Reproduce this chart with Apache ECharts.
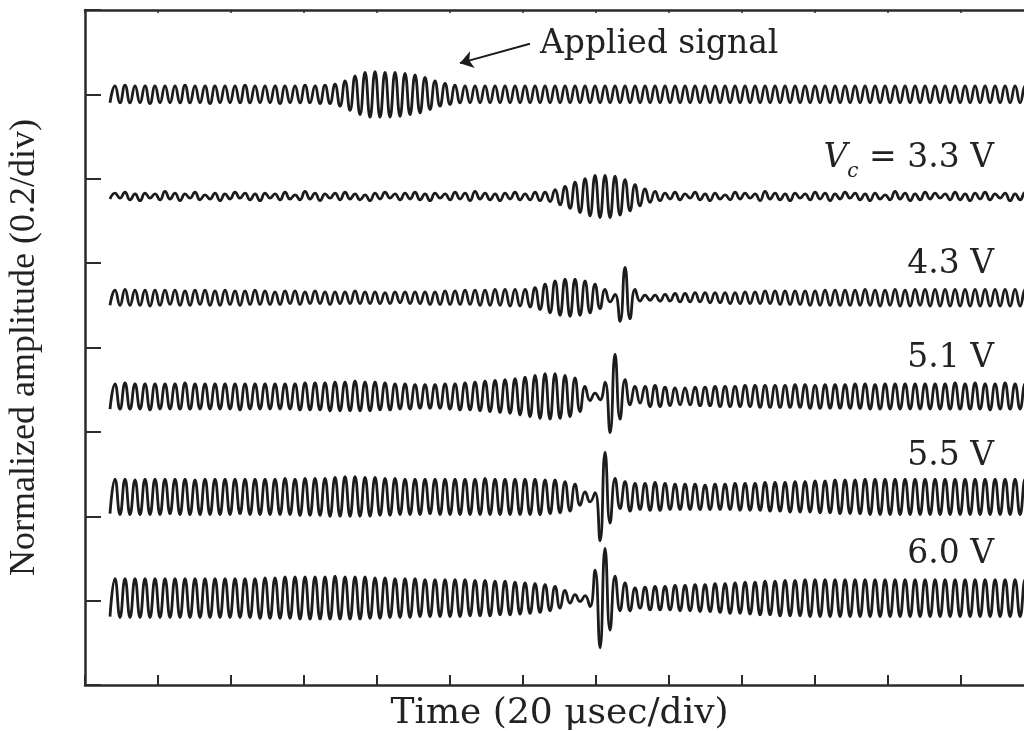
<!DOCTYPE html>
<html>
<head>
<meta charset="utf-8">
<script src="https://cdn.jsdelivr.net/npm/echarts@6/dist/echarts.min.js"></script>
<style>
html,body{margin:0;padding:0;background:#fff;}
#chart{width:1024px;height:731px;}
</style>
</head>
<body>
<div id="chart"></div>
<script>
// ---- data (amplitude in divisions; 1 div = 0.2 normalized units) ----
// successive half-cycle extremes, sampled every 1.37 µs starting at 6.85 µs
const sampleStart = 6.85;   // µs
const sampleStep = 1.37;    // µs (half period)

const traceLabels = ['Applied signal', '3.3 V', '4.3 V', '5.1 V', '5.5 V', '6.0 V'];
const traceOffsets = [7.0, 5.79, 4.59, 3.42, 2.23, 1.03];

const applied = [
-0.10,0.10,-0.10,0.11,-0.10,0.10,-0.10,0.10,-0.11,0.10,
-0.10,0.10,-0.10,0.10,-0.10,0.11,-0.10,0.10,-0.10,0.10,
-0.11,0.10,-0.10,0.10,-0.10,0.10,-0.10,0.11,-0.10,0.10,
-0.10,0.10,-0.10,0.10,-0.11,0.10,-0.10,0.10,-0.10,0.11,
-0.10,0.10,-0.11,0.11,-0.11,
0.12,-0.14,0.16,-0.19,0.22,-0.24,
0.26,-0.27,0.27,-0.27,0.26,-0.27,0.26,-0.26,0.25,-0.24,0.23,
-0.22,0.20,-0.18,0.16,-0.14,0.13,-0.12,0.11,
-0.10,0.10,-0.10,0.10,-0.10,0.10,-0.10,0.10,-0.10,0.10,
-0.10,0.10,-0.10,0.10,-0.10,0.10,-0.10,0.10,-0.10,0.10,
-0.10,0.10,-0.10,0.10,-0.10,0.10,-0.10,0.10,-0.10,0.10,
-0.10,0.10,-0.10,0.10,-0.10,0.10,-0.10,0.10,-0.10,0.10,
-0.10,0.10,-0.10,0.10,-0.10,0.10,-0.10,0.10,-0.10,0.10,
-0.10,0.10,-0.10,0.10,-0.10,0.10,-0.10,0.10,-0.10,0.10,
-0.10,0.10,-0.10,0.10,-0.10,0.10,-0.10,0.10,-0.10,0.10,
-0.10,0.10,-0.10,0.10,-0.10,0.10,-0.10,0.10,-0.10,0.10,
-0.10,0.10,-0.10,0.10,-0.10,0.10,-0.10,0.10,-0.10,0.10,
-0.10,0.10,-0.10,0.10,-0.10,0.10,-0.10,0.10,-0.10,0.10,
-0.10,0.10,-0.10,0.10,-0.10,0.10,-0.10,0.10,-0.10,0.10,
-0.10,0.10,-0.10,0.10,-0.10,0.10
];

const v33 = [
-0.03,0.04,-0.02,0.05,-0.04,0.03,-0.05,0.04,-0.02,0.03,
-0.04,0.06,-0.03,0.04,-0.05,0.03,-0.02,0.05,-0.04,0.02,
-0.03,0.04,-0.05,0.03,-0.03,0.05,-0.02,0.04,-0.04,0.03,
-0.05,0.04,-0.02,0.03,-0.04,0.05,-0.03,0.02,-0.04,0.06,
-0.03,0.04,-0.05,0.03,-0.02,0.04,-0.04,0.05,-0.03,0.03,
-0.04,0.02,-0.05,0.04,-0.03,0.05,-0.02,0.03,-0.04,0.04,
-0.03,0.05,-0.04,0.03,-0.05,0.04,-0.02,0.03,-0.04,0.05,
-0.03,0.04,-0.05,0.06,-0.03,0.04,-0.04,0.03,-0.05,0.04,
-0.03,0.05,-0.04,0.03,-0.04,0.05,-0.05,0.05,
-0.06,0.08,-0.10,0.12,-0.14,0.17,-0.19,0.21,-0.23,0.25,-0.25,0.25,
-0.25,0.24,-0.22,0.20,-0.17,0.14,-0.11,0.09,-0.07,0.06,-0.05,
0.04,-0.03,0.05,-0.04,0.03,-0.02,0.05,-0.04,0.03,-0.05,
0.04,-0.03,0.02,-0.04,0.05,-0.03,0.04,-0.02,0.03,-0.05,
0.06,-0.03,0.04,-0.04,0.03,-0.05,0.04,-0.02,0.03,-0.04,
0.05,-0.03,0.04,-0.05,0.03,-0.03,0.05,-0.02,0.04,-0.04,
0.03,-0.05,0.04,-0.03,0.02,-0.04,0.06,-0.03,0.04,-0.05,
0.03,-0.04,0.05,-0.03,0.04,-0.02,0.03,-0.04,0.05,-0.04,
0.03,-0.05,0.04,-0.03,0.05,-0.04,0.03,-0.02,0.04,-0.05,
0.03,-0.04,0.05,-0.03,0.04
];

const v43 = [
-0.09,0.09,-0.09,0.10,-0.09,0.09,-0.09,0.09,-0.10,0.09,
-0.09,0.09,-0.08,0.09,-0.09,0.08,-0.09,0.09,-0.08,0.09,
-0.09,0.08,-0.09,0.09,-0.08,0.08,-0.09,0.08,-0.08,0.09,
-0.08,0.08,-0.08,0.07,-0.08,0.08,-0.07,0.08,-0.08,0.07,
-0.07,0.08,-0.07,0.07,-0.08,0.07,-0.07,0.07,-0.07,0.08,
-0.07,0.07,-0.07,0.07,-0.07,0.06,-0.07,0.07,-0.06,0.07,
-0.07,0.07,-0.07,0.07,-0.08,0.07,-0.08,0.08,-0.08,0.08,
-0.08,0.09,-0.08,0.09,-0.09,0.09,-0.09,0.10,-0.09,0.10,
-0.10,0.10,-0.10,0.10,
-0.11,0.12,-0.14,0.16,-0.18,0.20,-0.21,0.22,-0.22,0.22,-0.21,0.20,-0.18,0.16,-0.13,0.10,
-0.05,0.04,-0.28,0.36,-0.25,0.10,
-0.04,0.03,-0.03,0.03,-0.04,0.04,-0.04,0.05,-0.05,0.05,
-0.05,0.06,-0.05,0.06,-0.06,0.06,-0.06,0.06,-0.07,0.06,
-0.07,0.07,-0.07,0.07,-0.07,0.08,-0.07,0.08,-0.08,0.08,
-0.08,0.08,-0.08,0.08,-0.09,0.08,-0.09,0.09,-0.09,0.09,
-0.09,0.09,-0.09,0.09,-0.09,0.10,-0.09,0.09,-0.10,0.09,
-0.09,0.10,-0.10,0.09,-0.10,0.10,-0.09,0.10,-0.10,0.10,
-0.10,0.10,-0.10,0.10,-0.10,0.10,-0.10,0.10,-0.10,0.10,
-0.10,0.10,-0.10,0.10,-0.10,0.10,-0.10,0.10,-0.10,0.10
];

const v51 = [
-0.15,0.15,-0.15,0.16,-0.15,0.15,-0.15,0.15,-0.16,0.15,
-0.15,0.15,-0.15,0.15,-0.15,0.16,-0.15,0.15,-0.15,0.15,
-0.15,0.15,-0.15,0.15,-0.15,0.15,-0.16,0.15,-0.15,0.15,
-0.15,0.15,-0.15,0.15,-0.15,0.15,-0.15,0.15,-0.16,0.16,
-0.16,0.16,-0.16,0.16,-0.17,0.17,-0.17,0.17,-0.17,0.18,
-0.17,0.17,-0.17,0.17,-0.16,0.16,-0.16,0.15,-0.15,0.15,
-0.15,0.14,-0.14,0.14,-0.14,0.14,-0.14,0.15,-0.15,0.15,
-0.16,0.16,-0.16,0.17,-0.17,0.18,-0.18,0.19,-0.19,0.20,
-0.20,0.21,
-0.22,0.23,-0.24,0.25,-0.26,0.27,-0.27,0.27,-0.26,0.25,-0.24,0.22,-0.18,0.12,
-0.05,0.04,-0.04,0.17,-0.43,0.50,-0.27,0.20,-0.10,0.12,
-0.08,0.12,-0.12,0.13,-0.12,0.11,-0.11,0.10,-0.10,0.10,
-0.10,0.11,-0.11,0.11,-0.11,0.12,-0.12,0.12,-0.12,0.12,
-0.12,0.13,-0.12,0.13,-0.13,0.13,-0.13,0.13,-0.13,0.13,
-0.13,0.14,-0.13,0.14,-0.14,0.13,-0.14,0.14,-0.14,0.14,
-0.14,0.14,-0.14,0.15,-0.14,0.15,-0.15,0.14,-0.15,0.15,
-0.15,0.15,-0.15,0.15,-0.15,0.15,-0.15,0.15,-0.15,0.15,
-0.15,0.15,-0.15,0.16,-0.15,0.15,-0.15,0.16,-0.15,0.15,
-0.16,0.15,-0.15,0.16,-0.15,0.15,-0.15,0.15,-0.15,0.16
];

const v55 = [
-0.20,0.21,-0.21,0.21,-0.21,0.20,-0.21,0.21,-0.21,0.21,
-0.21,0.21,-0.20,0.21,-0.21,0.21,-0.21,0.20,-0.21,0.21,
-0.21,0.21,-0.21,0.21,-0.21,0.21,-0.20,0.21,-0.21,0.21,
-0.21,0.21,-0.21,0.21,-0.21,0.22,-0.21,0.21,-0.22,0.22,
-0.22,0.22,-0.22,0.22,-0.23,0.23,-0.23,0.24,-0.23,0.24,
-0.23,0.23,-0.23,0.23,-0.22,0.22,-0.22,0.22,-0.21,0.21,
-0.21,0.21,-0.21,0.21,-0.20,0.21,-0.21,0.21,-0.21,0.21,
-0.21,0.21,-0.21,0.21,-0.21,0.22,-0.21,0.21,-0.21,0.21,
-0.21,0.21,
-0.21,0.21,-0.21,0.21,-0.21,0.20,-0.20,0.20,-0.19,0.18,-0.17,0.15,-0.10,0.06,
-0.06,0.05,-0.52,0.53,-0.31,0.22,-0.14,0.18,-0.17,0.16,
-0.15,0.16,-0.16,0.17,-0.16,0.16,-0.15,0.15,-0.15,0.15,
-0.15,0.15,-0.15,0.14,-0.15,0.15,-0.15,0.15,-0.15,0.16,
-0.16,0.16,-0.16,0.16,-0.16,0.17,-0.17,0.17,-0.17,0.17,
-0.18,0.18,-0.18,0.18,-0.18,0.19,-0.19,0.19,-0.19,0.20,
-0.20,0.20,-0.20,0.20,-0.20,0.21,-0.21,0.21,-0.21,0.21,
-0.21,0.21,-0.21,0.21,-0.21,0.21,-0.21,0.21,-0.21,0.21,
-0.21,0.21,-0.21,0.21,-0.21,0.21,-0.21,0.21,-0.21,0.21,
-0.21,0.21,-0.21,0.21,-0.21,0.21,-0.21,0.21,-0.21,0.21
];

const v60 = [
-0.22,0.23,-0.23,0.23,-0.23,0.23,-0.23,0.23,-0.23,0.23,
-0.23,0.23,-0.23,0.23,-0.23,0.23,-0.23,0.23,-0.23,0.23,
-0.23,0.23,-0.23,0.23,-0.23,0.23,-0.23,0.23,-0.23,0.23,
-0.24,0.24,-0.24,0.24,-0.24,0.25,-0.24,0.25,-0.25,0.25,
-0.25,0.25,-0.25,0.25,-0.25,0.26,-0.25,0.25,-0.25,0.25,
-0.25,0.25,-0.24,0.24,-0.24,0.24,-0.23,0.23,-0.23,0.23,
-0.23,0.23,-0.22,0.22,-0.22,0.22,-0.22,0.22,-0.22,0.22,
-0.22,0.22,-0.21,0.21,-0.21,0.21,-0.21,0.20,-0.20,0.20,
-0.20,0.19,
-0.19,0.18,-0.18,0.17,-0.17,0.16,-0.15,0.14,-0.12,0.09,-0.06,0.04,-0.04,0.03,
-0.10,0.33,-0.59,0.59,-0.38,0.26,-0.15,0.18,-0.15,0.12,
-0.12,0.13,-0.14,0.14,-0.14,0.14,-0.14,0.15,-0.15,0.15,
-0.15,0.16,-0.16,0.16,-0.16,0.17,-0.17,0.17,-0.18,0.18,
-0.18,0.19,-0.19,0.19,-0.20,0.20,-0.20,0.20,-0.21,0.21,
-0.21,0.21,-0.21,0.22,-0.22,0.22,-0.22,0.22,-0.22,0.22,
-0.22,0.22,-0.22,0.22,-0.22,0.22,-0.22,0.22,-0.22,0.22,
-0.22,0.22,-0.22,0.22,-0.22,0.22,-0.22,0.22,-0.22,0.22,
-0.22,0.22,-0.22,0.22,-0.22,0.22,-0.22,0.22,-0.22,0.22,
-0.22,0.22,-0.22,0.22,-0.22,0.22,-0.22,0.22,-0.22,0.22
];

const traces = [applied, v33, v43, v51, v55, v60];

// ---- chart ----
const chart = echarts.init(document.getElementById('chart'), null, {renderer: 'canvas'});
const ink = '#1c1c1c';
const frame = '#2b2b2b';

const series = traces.map((vals, k) => ({
  type: 'line',
  name: traceLabels[k],
  data: vals.map((v, i) => [sampleStart + i * sampleStep, traceOffsets[k] + v]),
  showSymbol: false,
  smooth: 0.5,
  lineStyle: {color: ink, width: 2.8},
  clip: true,
  silent: true,
  animation: false
}));

// arrow pointing at the applied signal
series[0].markLine = {
  silent: true,
  animation: false,
  symbol: ['none', 'arrow'],
  symbolSize: 13,
  label: {show: false},
  lineStyle: {color: ink, width: 2, type: 'solid'},
  data: [[{coord: [121.9, 7.60]}, {coord: [102.7, 7.37]}]]
};

const serif = '"DejaVu Serif", "Liberation Serif", serif';
const lab = '33px ' + serif;

chart.setOption({
  animation: false,
  backgroundColor: '#ffffff',
  grid: {left: 85, top: 10, width: 949, height: 675, containLabel: false, outerBoundsMode: 'none'},
  xAxis: [{
    type: 'value', position: 'bottom', min: 0, max: 260, interval: 20,
    axisLine: {show: true, onZero: false, lineStyle: {color: frame, width: 2.5}},
    axisTick: {show: true, inside: true, length: 10, lineStyle: {color: frame, width: 2}},
    axisLabel: {show: false}, splitLine: {show: false},
    name: 'Time (20 \u03bcsec/div)', nameLocation: 'middle', nameGap: 11,
    nameTextStyle: {fontFamily: serif, fontSize: 36, color: '#222', verticalAlign: 'top'}
  }, {
    type: 'value', position: 'top', min: 0, max: 260, interval: 20,
    axisLine: {show: true, onZero: false, lineStyle: {color: frame, width: 2.5}},
    axisTick: {show: true, inside: true, length: 3, lineStyle: {color: frame, width: 1.5}},
    axisLabel: {show: false}, splitLine: {show: false}
  }],
  yAxis: [{
    type: 'value', min: 0, max: 8, interval: 1,
    axisLine: {show: true, onZero: false, lineStyle: {color: frame, width: 2.5}},
    axisTick: {show: true, inside: true, length: 16, lineStyle: {color: frame, width: 2}},
    axisLabel: {show: false}, splitLine: {show: false},
    name: 'Normalized amplitude (0.2/div)', nameLocation: 'middle', nameGap: 42,
    nameTextStyle: {fontFamily: '"Liberation Serif", serif', fontSize: 36, color: '#222'}
  }],
  series: series,
  graphic: [
    {type: 'text', left: 540, top: 28, style: {text: 'Applied signal', font: lab, fill: '#222'}},
    {type: 'text', right: 30, top: 142, style: {
      text: '{i|V}{s|c} = 3.3 V', font: lab, fill: '#222',
      rich: {
        i: {fontFamily: serif, fontStyle: 'italic', fontSize: 33, fill: '#222'},
        s: {fontFamily: serif, fontStyle: 'italic', fontSize: 20, fill: '#222', padding: [26, 0, 0, 0]}
      }
    }},
    {type: 'text', right: 30, top: 248, style: {text: '4.3 V', font: lab, fill: '#222'}},
    {type: 'text', right: 30, top: 342, style: {text: '5.1 V', font: lab, fill: '#222'}},
    {type: 'text', right: 30, top: 440, style: {text: '5.5 V', font: lab, fill: '#222'}},
    {type: 'text', right: 30, top: 538, style: {text: '6.0 V', font: lab, fill: '#222'}}
  ]
});
</script>
</body>
</html>
